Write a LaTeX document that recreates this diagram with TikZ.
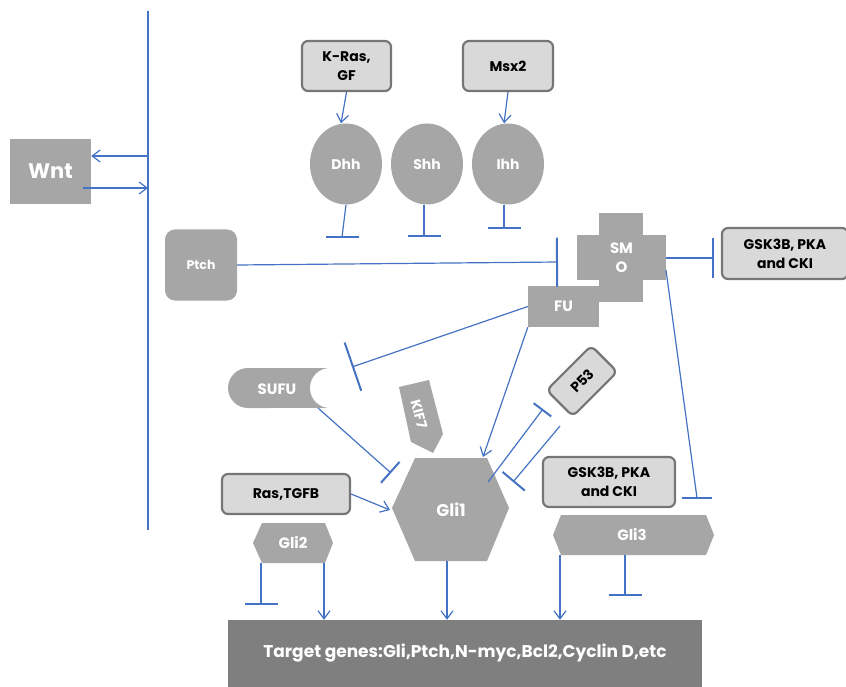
\documentclass[tikz,border=0pt]{standalone}
\usepackage{fontspec}
\setmainfont{Poppins}
\usetikzlibrary{arrows.meta,shapes.geometric}
\definecolor{gfill}{HTML}{A6A6A6}
\definecolor{dfill}{HTML}{7F7F7F}
\definecolor{lfill}{HTML}{D9D9D9}
\definecolor{bord}{HTML}{767676}
\definecolor{lblue}{HTML}{4472C4}
\begin{document}
\begin{tikzpicture}[x=1pt,y=-1pt,
  fs/.style={font=\fontsize{#1}{19}\selectfont\bfseries},
  gshape/.style={fill=gfill, text=white, inner sep=0pt, fs=15},
  wtext/.style={text=white, inner sep=0pt, fs=15},
  lbox/.style={fill=lfill, draw=bord, line width=2.2pt, rounded corners=6pt, align=center, inner sep=0pt, fs=14},
  conn/.style={draw=lblue, line width=1.2pt},
  barline/.style={draw=lblue, line width=2pt},
  act/.style={conn, -{Straight Barb[length=8pt,width=12pt]}},
  inh/.style={conn, -{Bar[width=#1, line width=2pt]}}, inh/.default=33pt]
\useasboundingbox (0,0) rectangle (846,687);

% --- Wnt
\node[gshape, minimum width=81pt, minimum height=65pt, fs=21] (wnt) at (50.5,171.5) {Wnt};
% --- Ptch
\node[gshape, rounded corners=10pt, minimum width=72pt, minimum height=71pt, fs=12.5] (ptch) at (201,265) {Ptch};
% --- SMO cross
\coordinate (smoc) at (621.5,257.5);
\fill[gfill] (599,213) rectangle (643,302);
\node[gshape, minimum width=89pt, minimum height=45pt, align=center] (smo) at (smoc) {SM\\O};
% --- FU
\node[gshape, minimum width=71pt, minimum height=41pt] (fu) at (563.5,306.5) {FU};
% --- GSK top
\node[lbox, minimum width=126pt, minimum height=51pt] (gska) at (785,253.5) {GSK3B, PKA\\and CKI};
% --- K-Ras, Msx2
\node[lbox, minimum width=89pt, minimum height=50pt] (kras) at (346.5,66) {K-Ras,\\GF};
\node[lbox, minimum width=90pt, minimum height=50pt] (msx) at (508,66) {Msx2};
% --- ligands
\node[gshape, ellipse, minimum width=72pt, minimum height=81pt, fs=14] (dhh) at (346,164) {Dhh};
\node[gshape, ellipse, minimum width=72pt, minimum height=81pt, fs=14] (shh) at (427,164) {Shh};
\node[gshape, ellipse, minimum width=72pt, minimum height=81pt, fs=14] (ihh) at (508,164) {Ihh};
% --- SUFU
\fill[gfill, rounded corners=20pt] (228,368) rectangle (290,408);
\fill[gfill] (270,368) rectangle (332,408);
\fill[white] (330,388) circle (20pt);
\node[wtext] (sufu) at (277,389) {SUFU};
% --- Gli1
\fill[gfill] (415,458) -- (487,458) -- (509,508) -- (487,561) -- (415,561) -- (392,508) -- cycle;
\node[wtext, fs=17] (gli1) at (451,510) {Gli1};
% --- KIF7
\fill[gfill] (399,387) -- (429,380) -- (443,434) -- (433,453) -- (411,442) -- cycle;
\node[wtext, fs=14, rotate=-75] (kif) at (419,414) {KIF7};
% --- P53
\node[lbox, rotate=45, minimum width=63pt, minimum height=37pt] (p53) at (582,381) {P53};
% --- Ras,TGFB
\node[lbox, minimum width=128pt, minimum height=40pt] (ras) at (286,494) {Ras,TGFB};
% --- Gli2
\fill[gfill] (253,543) -- (262,523) -- (325,523) -- (333,543) -- (325,563) -- (262,563) -- cycle;
\node[wtext] (gli2) at (293,543) {Gli2};
% --- Gli3
\fill[gfill] (553,535) -- (561,515) -- (706,515) -- (714,535) -- (706,555) -- (561,555) -- cycle;
\node[wtext] (gli3) at (632,535) {Gli3};
% --- GSK lower
\node[lbox, minimum width=132pt, minimum height=50pt] (gskb) at (609,482) {GSK3B, PKA\\and CKI};
% --- Target genes
\node[fill=dfill, text=white, minimum width=474pt, minimum height=67pt, inner sep=0pt, fs=17] (target) at (465,653.5) {Target genes:Gli,Ptch,N-myc,Bcl2,Cyclin D,etc};

% ================= connectors
\coordinate (vtop) at (148,11);
\coordinate (vbot) at (148,530);
\draw[conn, line width=2pt] (vtop) -- (vbot);
\coordinate (m1) at (148,156);
\draw[act] (m1) -- (m1 -| wnt.east);
\coordinate (w2) at (83,188);
\coordinate (m2) at (148,188);
\draw[act] (w2) -- (m2);

\coordinate (ptchbar) at (558,262);
\draw[inh=49pt] (ptch.east) -- (ptchbar);

\coordinate (gskbar) at (714,258);
\draw[inh=40pt] (smo.east |- gskbar) -- (gskbar);
\coordinate (smor) at (666,270);
\coordinate (gli3bar) at (697,498);
\draw[conn] (smor) -- (gli3bar);
\draw[barline] ([xshift=-15pt]gli3bar) -- ([xshift=15pt]gli3bar);

\draw[act] (kras.south) -- ([xshift=-5pt]dhh.north);
\draw[act] (msx.south) -- ([xshift=-4pt]ihh.north);
\coordinate (dhhbar) at (342,237);
\draw[conn] (dhh.south) -- (dhhbar);
\draw[barline] ([xshift=-16pt]dhhbar) -- ([xshift=17pt]dhhbar);
\coordinate (shhbar) at (424,237);
\draw[inh] ([xshift=-3pt]shh.south) -- (shhbar);
\coordinate (ihhbar) at (504,229);
\draw[inh] ([xshift=-4pt]ihh.south) -- (ihhbar);

\coordinate (sufubar) at (352,367);
\draw[inh=51pt] (fu.west) -- (sufubar);
\coordinate (g1tip) at (483,457);
\draw[act] (fu.south west) -- (g1tip);
\coordinate (sufus) at (318,408);
\coordinate (g1sufu) at (391,473);
\draw[inh=28pt] (sufus) -- (g1sufu);
\coordinate (g1ras) at (390,510);
\draw[act] (ras.east) -- (g1ras);

\coordinate (g1in) at (488,482);
\coordinate (p53bar) at (543,409);
\draw[inh=22pt] (g1in) -- (p53bar);
\coordinate (p53out) at (560,426);
\coordinate (g1bar) at (513,482);
\draw[inh=29pt] (p53out) -- (g1bar);

\coordinate (g2l) at (261,563);
\coordinate (g2bar) at (261,605);
\draw[inh] (g2l) -- (g2bar);
\coordinate (g2r) at (324,563);
\draw[act] (g2r) -- (g2r |- target.north);
\coordinate (g1b) at (447,561);
\draw[act] (g1b) -- (g1b |- target.north);
\coordinate (g3l) at (560,555);
\draw[act] (g3l) -- (g3l |- target.north);
\coordinate (g3m) at (625,555);
\coordinate (g3bar) at (625,596);
\draw[inh] (g3m) -- (g3bar);
\end{tikzpicture}
\end{document}
